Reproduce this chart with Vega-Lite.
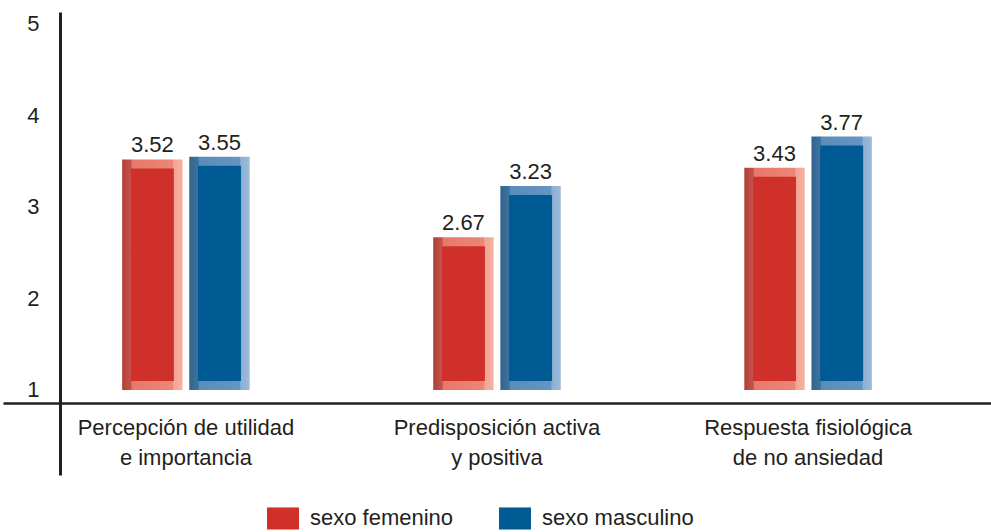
{
  "$schema": "https://vega.github.io/schema/vega-lite/v6.json",
  "width": 988,
  "height": 463,
  "autosize": {"type": "none"},
  "padding": {"left": 3, "top": 12, "right": 0, "bottom": 57},
  "background": "white",
  "config": {
    "view": {"stroke": null},
    "font": "Liberation Sans",
    "axis": {"labelFont": "Liberation Sans", "labelColor": "#231f20"},
    "legend": {"labelFont": "Liberation Sans", "labelColor": "#231f20"},
    "text": {"font": "Liberation Sans"}
  },
  "data": {
    "values": [
      {"dimension": "Percepción de utilidad\ne importancia", "sexo": "sexo femenino", "valor": 3.52},
      {"dimension": "Percepción de utilidad\ne importancia", "sexo": "sexo masculino", "valor": 3.55},
      {"dimension": "Predisposición activa\ny positiva", "sexo": "sexo femenino", "valor": 2.67},
      {"dimension": "Predisposición activa\ny positiva", "sexo": "sexo masculino", "valor": 3.23},
      {"dimension": "Respuesta fisiológica\nde no ansiedad", "sexo": "sexo femenino", "valor": 3.43},
      {"dimension": "Respuesta fisiológica\nde no ansiedad", "sexo": "sexo masculino", "valor": 3.77}
    ]
  },
  "encoding": {
    "x": {
      "field": "dimension",
      "type": "nominal",
      "sort": null,
      "scale": {"paddingInner": 0.59, "paddingOuter": 0.383},
      "axis": {
        "orient": "bottom",
        "offset": -72,
        "ticks": false,
        "grid": false,
        "domainColor": "#231f20",
        "domainWidth": 2.5,
        "labelAngle": 0,
        "labelFontSize": 22,
        "labelPadding": 14,
        "labelLineHeight": 30,
        "labelLimit": 0,
        "labelExpr": "split(datum.label, '\\n')",
        "title": null
      }
    },
    "xOffset": {
      "field": "sexo",
      "type": "nominal",
      "sort": ["sexo femenino", "sexo masculino"],
      "scale": {"paddingInner": 0.1, "paddingOuter": 0}
    },
    "y": {
      "field": "valor",
      "type": "quantitative",
      "scale": {"domain": [0.071, 5.131], "nice": false, "zero": false},
      "axis": {
        "values": [1, 2, 3, 4, 5],
        "offset": -57,
        "ticks": false,
        "grid": false,
        "domainColor": "#231f20",
        "domainWidth": 3,
        "labelFontSize": 22,
        "labelPadding": 21,
        "title": null
      }
    }
  },
  "layer": [
    {
      "mark": {"type": "bar"},
      "encoding": {
        "y2": {"datum": 1},
        "fill": {
          "condition": {
            "test": "datum.sexo === 'sexo femenino'",
            "value": {
              "gradient": "linear", "x1": 0, "y1": 0, "x2": 1, "y2": 0,
              "stops": [
                {"offset": 0, "color": "#b03e38"},
                {"offset": 0.15, "color": "#c4544c"},
                {"offset": 0.16, "color": "#e8786b"},
                {"offset": 0.84, "color": "#ec8677"},
                {"offset": 0.85, "color": "#f2a494"},
                {"offset": 1, "color": "#f4b2a2"}
              ]
            }
          },
          "value": {
            "gradient": "linear", "x1": 0, "y1": 0, "x2": 1, "y2": 0,
            "stops": [
              {"offset": 0, "color": "#33648f"},
              {"offset": 0.15, "color": "#3f729f"},
              {"offset": 0.16, "color": "#5a8cba"},
              {"offset": 0.84, "color": "#6596c2"},
              {"offset": 0.85, "color": "#8cafd3"},
              {"offset": 1, "color": "#9dbbdb"}
            ]
          }
        }
      }
    },
    {
      "mark": {"type": "bar", "width": 43, "yOffset": 9, "y2Offset": -9},
      "encoding": {
        "y2": {"datum": 1},
        "color": {
          "field": "sexo",
          "type": "nominal",
          "scale": {"domain": ["sexo femenino", "sexo masculino"], "range": ["#d0302a", "#005a93"]},
          "legend": {
            "orient": "none",
            "legendX": 264,
            "legendY": 490,
            "direction": "horizontal",
            "symbolType": "M-1,-0.69H1V0.69H-1Z",
            "symbolSize": 1024,
            "symbolStrokeWidth": 0,
            "symbolOpacity": 1,
            "labelFontSize": 22,
            "labelOffset": 11,
            "labelLimit": 0,
            "columnPadding": 45,
            "padding": 0,
            "title": null
          }
        }
      }
    },
    {
      "mark": {"type": "text", "baseline": "alphabetic", "dy": -7, "fontSize": 22, "color": "#231f20"},
      "encoding": {
        "text": {"field": "valor", "type": "quantitative", "format": ".2f"}
      }
    }
  ]
}
